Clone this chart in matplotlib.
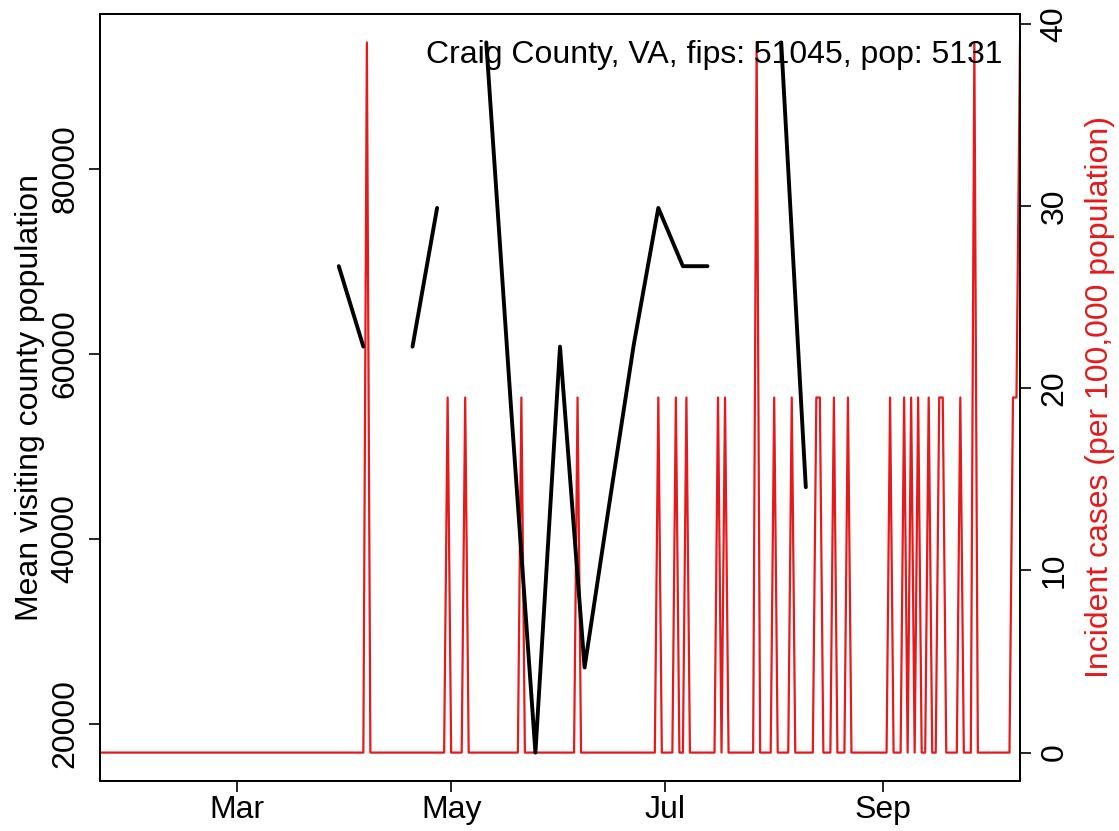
import numpy as np
import pandas as pd
import matplotlib
matplotlib.use('Agg')
import matplotlib.pyplot as plt
import matplotlib.dates as mdates

plt.rcParams['font.family'] = ['Liberation Sans', 'DejaVu Sans']

county_label = "Craig County, VA, fips: 51045, pop: 5131"
population = 5131

# weekly mean visiting county population (NaN = no data)
week_dates = pd.date_range('2020-03-30', '2020-08-10', freq='7D')
visit_pop = [69500, 60800, np.nan, 60800, 75800, np.nan, 93700, 54500, 16900,
             60800, 26100, 43700, 61000, 75800, 69500, 69500, np.nan, np.nan,
             93700, 45600]

# daily incident cases
case_start = '2020-01-22'
case_end = '2020-10-10'
case_days = ['2020-04-07', '2020-04-30', '2020-05-05', '2020-05-21', '2020-06-06',
             '2020-06-29', '2020-07-04', '2020-07-07', '2020-07-16', '2020-07-18',
             '2020-07-27', '2020-08-01', '2020-08-06', '2020-08-13', '2020-08-14',
             '2020-08-18', '2020-08-22', '2020-09-03', '2020-09-07', '2020-09-09',
             '2020-09-11', '2020-09-14', '2020-09-17', '2020-09-18', '2020-09-23',
             '2020-09-27', '2020-10-08', '2020-10-09', '2020-10-10']
case_counts = [2, 1, 1, 1, 1,
               1, 1, 1, 1, 1,
               2, 1, 1, 1, 1,
               1, 1, 1, 1, 1,
               1, 1, 1, 1, 1,
               2, 1, 1, 2]

tick_dates = ['2020-03-01', '2020-05-01', '2020-07-01', '2020-09-01']


def main():
    days = pd.date_range(case_start, case_end, freq='D')
    cases = pd.Series(0.0, index=days)
    cases[pd.to_datetime(case_days)] = case_counts
    incid = cases / population * 1e5

    fs = 23
    fig = plt.figure(figsize=(11.19, 8.31), dpi=100)
    ax = fig.add_axes([100 / 1119, 1 - 781 / 831, 920 / 1119, 767 / 831])
    ax2 = ax.twinx()
    ax.set_zorder(ax2.get_zorder() + 1)
    ax.patch.set_visible(False)

    # red incidence on right axis
    ax2.plot(incid.index, incid.values, color='#E41A1C', lw=1.6)
    top = incid.max()
    ax2.set_ylim(-0.04 * top, 1.04 * top)
    ax2.set_yticks([0, 10, 20, 30, 40])

    # black visiting population on left axis
    vp = pd.Series(visit_pop, index=week_dates)
    ax.plot(vp.index, vp.values, color='black', lw=2.8, solid_capstyle='round')
    lo, hi = np.nanmin(visit_pop), np.nanmax(visit_pop)
    r = hi - lo
    ax.set_ylim(lo - 0.04 * r, hi + 0.04 * r)
    ax.set_yticks([20000, 40000, 60000, 80000])
    ax.set_xlim(days[0], days[-1])
    ax.set_xticks(pd.to_datetime(tick_dates))
    ax.xaxis.set_major_formatter(mdates.DateFormatter('%b'))

    for a in (ax, ax2):
        a.tick_params(length=8, width=1.2, labelsize=fs, pad=6, direction='out')
        for s in a.spines.values():
            s.set_linewidth(1.3)
    ax.tick_params(axis='x', pad=2)
    for lab in ax.get_yticklabels() + ax2.get_yticklabels():
        lab.set_rotation(90)
        lab.set_va('center')

    ax.text(0.9815, 0.9465, county_label, transform=ax.transAxes, ha='right', va='center', fontsize=fs)

    fig.text(30 / 1119, 1 - 397.5 / 831, 'Mean visiting county population', rotation=90,
             ha='center', va='center', fontsize=fs)
    fig.text(1100 / 1119, 1 - 397.5 / 831, 'Incident cases (per 100,000 population)', rotation=90,
             ha='center', va='center', fontsize=fs, color='#E41A1C')

    fig.savefig('out.png', dpi=100)


if __name__ == "__main__":
    main()
